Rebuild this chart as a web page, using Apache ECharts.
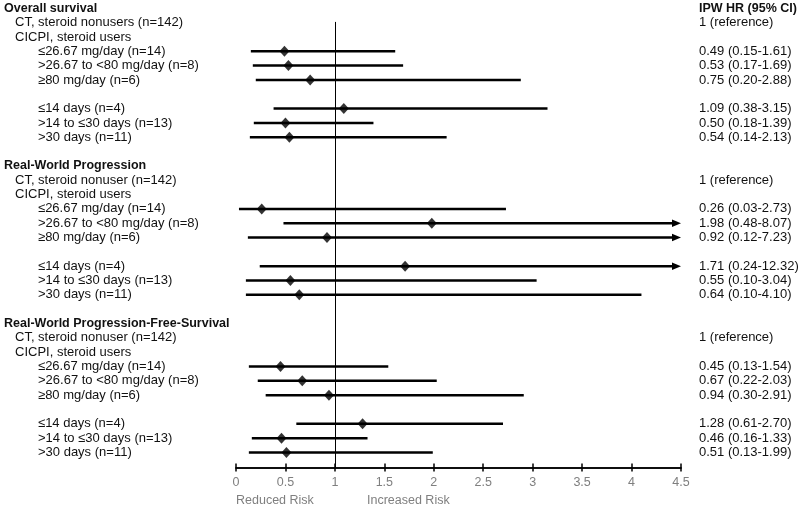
<!DOCTYPE html>
<html>
<head>
<meta charset="utf-8">
<script src="https://cdn.jsdelivr.net/npm/echarts@6/dist/echarts.min.js"></script>
<style>html,body{margin:0;padding:0;background:#fff}#c{width:800px;height:508px}</style>
</head>
<body>
<div id="c"></div>
<script>
const sections = ['Overall survival', 'Real-World Progression', 'Real-World Progression-Free-Survival'];
const refLabels = ['CT, steroid nonusers (n=142)', 'CT, steroid nonuser (n=142)', 'CT, steroid nonuser (n=142)'];
const userLabel = 'CICPI, steroid users';
const refText = '1 (reference)';
const headerText = 'IPW HR (95% CI)';
const subgroups = ['≤26.67 mg/day (n=14)', '>26.67 to <80 mg/day (n=8)', '≥80 mg/day (n=6)', '≤14 days (n=4)', '>14 to ≤30 days (n=13)', '>30 days (n=11)'];
const hrOS = [0.49, 0.53, 0.75, 1.09, 0.50, 0.54];
const loOS = [0.15, 0.17, 0.20, 0.38, 0.18, 0.14];
const hiOS = [1.61, 1.69, 2.88, 3.15, 1.39, 2.13];
const hrRWP = [0.26, 1.98, 0.92, 1.71, 0.55, 0.64];
const loRWP = [0.03, 0.48, 0.12, 0.24, 0.10, 0.10];
const hiRWP = [2.73, 8.07, 7.23, 12.32, 3.04, 4.10];
const hrPFS = [0.45, 0.67, 0.94, 1.28, 0.46, 0.51];
const loPFS = [0.13, 0.22, 0.30, 0.61, 0.16, 0.13];
const hiPFS = [1.54, 2.03, 2.91, 2.70, 1.33, 1.99];
const xTicks = [0, 0.5, 1, 1.5, 2, 2.5, 3, 3.5, 4, 4.5];
const xMin = 0, xMax = 4.5;
const riskLabels = ['Reduced Risk', 'Increased Risk'];

const hrSets = [[hrOS, loOS, hiOS], [hrRWP, loRWP, hiRWP], [hrPFS, loPFS, hiPFS]];
const subRowOffsets = [3, 4, 5, 7, 8, 9];

const leftLabels = [];
const rightLabels = [];
const estimates = [];
const cis = [];
sections.forEach((s, si) => {
  const base = si * 11;
  leftLabels.push({row: base, text: s, kind: 'title'});
  leftLabels.push({row: base + 1, text: refLabels[si], kind: 'l1'});
  leftLabels.push({row: base + 2, text: userLabel, kind: 'l1'});
  rightLabels.push({row: base + 1, text: refText, bold: false});
  const [hr, lo, hi] = hrSets[si];
  subgroups.forEach((g, gi) => {
    const r = base + subRowOffsets[gi];
    leftLabels.push({row: r, text: g, kind: 'l2'});
    rightLabels.push({row: r, text: hr[gi].toFixed(2) + ' (' + lo[gi].toFixed(2) + '-' + hi[gi].toFixed(2) + ')', bold: false});
    estimates.push([hr[gi], r]);
    cis.push([lo[gi], hi[gi], r]);
  });
});
rightLabels.unshift({row: 0, text: headerText, bold: true});

const FONT = '"Liberation Sans", Arial, sans-serif';
const indent = {title: 4, l1: 15, l2: 38};
const REG = '13px ' + FONT;
const BOLD = 'bold 12.5px ' + FONT;

const chart = echarts.init(document.getElementById('c'), null, {renderer: 'canvas'});
const axisCommon = {
  type: 'value', min: xMin, max: xMax, interval: 0.5, position: 'bottom', offset: 0,
  splitLine: {show: false},
  axisLine: {show: true, onZero: false, lineStyle: {color: '#000', width: 1.5}},
};
chart.setOption({
  animation: false,
  grid: {left: 236, right: 119, top: 0, bottom: 40.5},
  xAxis: [
    Object.assign({}, axisCommon, {
      axisTick: {show: true, inside: false, length: 4, lineStyle: {color: '#000', width: 1.5}},
      axisLabel: {color: '#7f7f7f', fontFamily: '"Liberation Sans", Arial, sans-serif', fontSize: 12.5, margin: 9,
        formatter: v => String(v)}
    }),
    Object.assign({}, axisCommon, {
      axisTick: {show: true, inside: true, length: 4, lineStyle: {color: '#000', width: 1.5}},
      axisLabel: {show: false}
    })
  ],
  yAxis: {type: 'value', inverse: true, min: -0.58, max: 32.05, show: false},
  series: [
    {
      type: 'line', data: [], markLine: {
        silent: true, symbol: 'none', label: {show: false},
        lineStyle: {color: '#000', width: 1, type: 'solid'},
        data: [[{coord: [1, 0.95]}, {coord: [1, 32.05]}]]
      }
    },
    {
      type: 'custom', data: cis, encode: {x: [0, 1], y: 2},
      renderItem: (params, api) => {
        const lo = api.value(0), hi = api.value(1), r = api.value(2);
        const p0 = api.coord([lo, r]);
        const end = Math.min(hi, xMax);
        const p1 = api.coord([end, r]);
        const children = [];
        const arrow = hi > xMax;
        children.push({type: 'line', shape: {x1: p0[0], y1: p0[1], x2: arrow ? p1[0] - 6 : p1[0], y2: p1[1]},
          style: {stroke: '#000', lineWidth: 2.5}});
        if (arrow) {
          children.push({type: 'polygon', shape: {points: [[p1[0], p1[1]], [p1[0] - 9, p1[1] - 3.8], [p1[0] - 9, p1[1] + 3.8]]},
            style: {fill: '#000'}});
        }
        return {type: 'group', children};
      }
    },
    {
      type: 'scatter', data: estimates, symbol: 'diamond', symbolSize: [10, 11],
      itemStyle: {color: '#000'}, z: 5
    },
    {
      type: 'custom', data: leftLabels.map(d => [0, d.row]), encode: {x: 0, y: 1},
      renderItem: (params, api) => {
        const d = leftLabels[params.dataIndex];
        const p = api.coord([0, api.value(1)]);
        return {type: 'text', x: indent[d.kind], y: p[1],
          style: {text: d.text, fill: '#111', font: d.kind === 'title' ? BOLD : REG,
            verticalAlign: 'middle', align: 'left'}};
      }
    },
    {
      type: 'custom', data: rightLabels.map(d => [xMax, d.row]), encode: {x: 0, y: 1},
      renderItem: (params, api) => {
        const d = rightLabels[params.dataIndex];
        const p = api.coord([xMax, api.value(1)]);
        return {type: 'text', x: p[0] + 18, y: p[1],
          style: {text: d.text, fill: '#111', font: d.bold ? BOLD : REG,
            verticalAlign: 'middle', align: 'left'}};
      }
    }
  ],
  graphic: [
    {type: 'text', left: 236, top: 494, style: {text: riskLabels[0], fill: '#7f7f7f', font: '12.5px ' + FONT}},
    {type: 'text', left: 367, top: 494, style: {text: riskLabels[1], fill: '#7f7f7f', font: '12.5px ' + FONT}}
  ]
});
</script>
</body>
</html>
